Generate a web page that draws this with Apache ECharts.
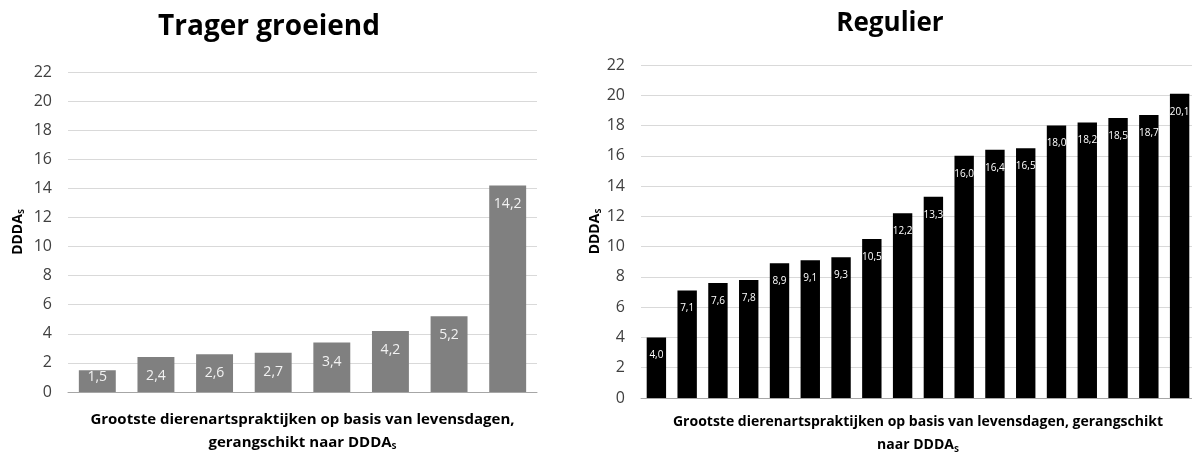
<!DOCTYPE html>
<html>
<head>
<meta charset="utf-8">
<style>
  html, body { margin: 0; padding: 0; background: #ffffff; }
  #chart { width: 1192px; height: 452px; }
</style>
<script src="https://cdn.jsdelivr.net/npm/echarts@6/dist/echarts.min.js"></script>
</head>
<body>
<div id="chart"></div>
<script>
// DDDA_S per practice, sorted ascending
const tragerCategories = ['1', '2', '3', '4', '5', '6', '7', '8'];
const tragerValues = [1.5, 2.4, 2.6, 2.7, 3.4, 4.2, 5.2, 14.2];

const regulierCategories = ['1', '2', '3', '4', '5', '6', '7', '8', '9', '10',
  '11', '12', '13', '14', '15', '16', '17', '18'];
const regulierValues = [4.0, 7.1, 7.6, 7.8, 8.9, 9.1, 9.3, 10.5, 12.2, 13.3,
  16.0, 16.4, 16.5, 18.0, 18.2, 18.5, 18.7, 20.1];

const yTicks = { min: 0, max: 22, interval: 2 };

const FONT = "'Open Sans', 'Noto Sans', sans-serif";
const comma = v => v.toFixed(1).replace('.', ',');

function subRich(size) {
  return {
    b: { fontFamily: FONT, fontWeight: 'bold', fontSize: size, color: '#000' },
    s: { fontFamily: FONT, fontWeight: 'bold', fontSize: 9, color: '#000', padding: [7, 0, 0, 0] }
  };
}

function yAxis(gridIndex, nameGap) {
  return {
    type: 'value', gridIndex,
    min: yTicks.min, max: yTicks.max, interval: yTicks.interval,
    axisLine: { show: false }, axisTick: { show: false },
    axisLabel: { fontFamily: FONT, fontSize: 16, color: '#404040', margin: 16 },
    splitLine: { lineStyle: { color: '#d9d9d9', width: 1 } },
    name: '{b|DDDA}{s|S}',
    nameLocation: 'middle', nameRotate: 90, nameGap,
    nameTextStyle: { rich: subRich(14) }
  };
}

function xAxis(gridIndex, cats, nameText, size, gap) {
  return {
    type: 'category', gridIndex, data: cats,
    axisLine: { lineStyle: { color: '#a6a6a6', width: 1 } },
    axisTick: { show: false }, axisLabel: { show: false },
    name: nameText, nameLocation: 'middle', nameGap: gap,
    nameTextStyle: {
      fontFamily: FONT, fontWeight: 'bold', fontSize: size, color: '#000',
      lineHeight: 23, rich: subRich(size)
    }
  };
}

// very short bars keep their label near the top edge instead of pushing it below the axis
const tragerData = tragerValues.map(v => (v < 2 ? { value: v, label: { distance: 0 } } : v));

const chart = echarts.init(document.getElementById('chart'), null, { renderer: 'canvas' });
chart.setOption({
  animation: false,
  backgroundColor: '#ffffff',
  title: [
    { text: 'Trager groeiend', left: 264, top: 8, textAlign: 'center',
      textStyle: { fontFamily: FONT, fontWeight: 'bold', fontSize: 28, color: '#000' } },
    { text: 'Regulier', left: 885, top: 6, textAlign: 'center',
      textStyle: { fontFamily: FONT, fontWeight: 'bold', fontSize: 26, color: '#000' } }
  ],
  grid: [
    { left: 68, top: 72, width: 469, height: 320, outerBoundsMode: 'none', containLabel: false },
    { left: 641, top: 65, width: 554, height: 333, outerBoundsMode: 'none', containLabel: false }
  ],
  xAxis: [
    xAxis(0, tragerCategories,
      'Grootste dierenartspraktijken op basis van levensdagen,\ngerangschikt naar {b|DDDA}{s|S}', 15, 16),
    xAxis(1, regulierCategories,
      'Grootste dierenartspraktijken op basis van levensdagen, gerangschikt\nnaar {b|DDDA}{s|S}', 14, 13)
  ],
  yAxis: [yAxis(0, 42), yAxis(1, 38)],
  series: [
    {
      type: 'bar', xAxisIndex: 0, yAxisIndex: 0, data: tragerData,
      barWidth: '63%',
      itemStyle: { color: '#808080' },
      label: {
        show: true, position: 'insideTop', distance: 12,
        fontFamily: FONT, fontSize: 14, color: '#f2f2f2',
        formatter: p => comma(p.value)
      }
    },
    {
      type: 'bar', xAxisIndex: 1, yAxisIndex: 1, data: regulierValues,
      barWidth: '63%',
      itemStyle: { color: '#000000' },
      label: {
        show: true, position: 'insideTop', distance: 13,
        fontFamily: FONT, fontSize: 10, color: '#ffffff',
        formatter: p => comma(p.value)
      }
    }
  ]
});
</script>
</body>
</html>
